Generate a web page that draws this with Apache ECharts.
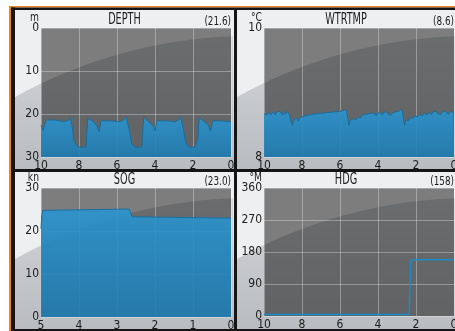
<!DOCTYPE html>
<html>
<head>
<meta charset="utf-8">
<script src="https://cdn.jsdelivr.net/npm/echarts@6/dist/echarts.min.js"></script>
<style>
    html, body { margin: 0; padding: 0; background: #fff; }
    #chart { width: 455px; height: 331px; }
</style>
</head>
<body>
<div id="chart"></div>
<script>
(function() {
    'use strict';

    // History values, x = minutes ago
    const depthData = [
        [10.0, 22.6], [9.88, 23.8], [9.74, 21.4], [9.26, 21.4], [9.17, 21.8], [8.82, 21.8],
        [8.56, 21.5], [8.47, 20.8], [8.38, 22.5], [8.26, 26.5], [8.03, 27.7], [7.63, 27.7],
        [7.54, 21.0], [7.24, 21.8], [7.07, 22.6], [6.94, 24.2], [6.84, 21.6], [6.27, 21.6],
        [6.19, 21.8], [5.83, 21.8], [5.66, 21.4], [5.52, 20.8], [5.39, 23.0], [5.22, 27.0],
        [5.04, 27.7], [4.69, 27.7], [4.60, 20.8], [4.34, 21.8], [4.08, 22.8], [3.99, 24.0],
        [3.90, 21.6], [3.37, 21.6], [3.28, 21.8], [2.93, 21.8], [2.76, 21.4], [2.64, 20.8],
        [2.53, 23.0], [2.39, 26.5], [2.23, 27.7], [1.88, 27.7], [1.76, 26.0], [1.67, 20.8],
        [1.41, 21.8], [1.18, 22.6], [1.09, 24.0], [0.95, 21.6], [0.56, 21.6], [0.47, 21.8],
        [0.00, 21.8]
    ];

    const tempData = [
        [10.0, 8.67], [9.92, 8.70], [9.85, 8.65], [9.77, 8.69], [9.70, 8.71], [9.62, 8.66],
        [9.55, 8.70], [9.47, 8.68], [9.40, 8.65], [9.32, 8.70], [9.25, 8.67], [9.17, 8.71],
        [9.10, 8.68], [9.02, 8.65], [8.95, 8.70], [8.87, 8.66], [8.80, 8.71], [8.72, 8.74],
        [8.66, 8.66], [8.58, 8.55], [8.50, 8.49], [8.44, 8.58], [8.36, 8.55], [8.28, 8.60],
        [8.20, 8.56], [8.12, 8.61], [8.04, 8.58], [7.96, 8.63], [7.88, 8.60], [7.80, 8.64],
        [7.72, 8.61], [7.64, 8.65], [7.56, 8.62], [7.48, 8.66], [7.40, 8.63], [7.32, 8.67],
        [7.24, 8.64], [7.16, 8.67], [7.08, 8.64], [7.00, 8.68], [6.92, 8.65], [6.84, 8.68],
        [6.76, 8.65], [6.68, 8.69], [6.60, 8.66], [6.52, 8.69], [6.44, 8.66], [6.36, 8.70],
        [6.28, 8.67], [6.20, 8.70], [6.12, 8.67], [6.04, 8.71], [5.96, 8.68], [5.88, 8.71],
        [5.80, 8.68], [5.72, 8.74], [5.64, 8.70], [5.58, 8.58], [5.52, 8.49], [5.46, 8.57],
        [5.38, 8.54], [5.30, 8.59], [5.22, 8.60], [5.14, 8.58], [5.06, 8.62], [4.98, 8.63],
        [4.90, 8.61], [4.82, 8.65], [4.74, 8.62], [4.66, 8.66], [4.58, 8.63], [4.50, 8.67],
        [4.42, 8.64], [4.34, 8.68], [4.26, 8.65], [4.18, 8.68], [4.10, 8.64], [4.02, 8.68],
        [3.94, 8.65], [3.86, 8.69], [3.78, 8.65], [3.70, 8.69], [3.62, 8.66], [3.54, 8.70],
        [3.46, 8.66], [3.38, 8.69], [3.30, 8.65], [3.22, 8.69], [3.14, 8.66], [3.06, 8.70],
        [2.98, 8.67], [2.90, 8.71], [2.82, 8.68], [2.76, 8.74], [2.70, 8.68], [2.64, 8.56],
        [2.60, 8.49], [2.54, 8.57], [2.46, 8.59], [2.38, 8.57], [2.30, 8.61], [2.22, 8.62],
        [2.14, 8.60], [2.06, 8.64], [1.98, 8.64], [1.90, 8.62], [1.82, 8.66], [1.74, 8.66],
        [1.66, 8.64], [1.58, 8.68], [1.50, 8.68], [1.42, 8.65], [1.34, 8.69], [1.26, 8.69],
        [1.18, 8.66], [1.10, 8.70], [1.02, 8.67], [0.94, 8.71], [0.86, 8.67], [0.78, 8.70],
        [0.70, 8.66], [0.62, 8.70], [0.54, 8.67], [0.46, 8.71], [0.38, 8.68], [0.30, 8.66],
        [0.22, 8.70], [0.14, 8.67], [0.06, 8.70], [0.00, 8.68]
    ];

    const sogData = [
        [5.0, 20.5], [4.98, 23.5], [4.95, 24.8], [4.9, 25.1], [2.68, 25.1],
        [2.64, 24.3], [2.60, 23.3], [2.55, 23.0], [0.0, 23.0]
    ];

    const hdgData = [
        [10.0, 4], [2.36, 4], [2.33, 60], [2.29, 150], [2.24, 158], [0.0, 158]
    ];

    const titles = ['DEPTH', 'WTRTMP', 'SOG', 'HDG'];
    const units = ['m', '°C', 'kn', '°M'];
    const readouts = ['(21.6)', '(8.6)', '(23.0)', '(158)'];

    // Axis ranges per panel
    const xMax = [10, 10, 5, 10];
    const xStep = [2, 2, 1, 2];
    const yMin = [0, 8, 0, 0];
    const yMax = [30, 10, 30, 360];
    const yStep = [10, 2, 10, 90];

    // Layout: panel boxes and plot boxes [x, y, w, h]
    const panels = [[15, 10, 219, 159], [237, 10, 218, 159], [15, 172, 219, 157], [237, 172, 218, 157]];
    const plots = [[41, 28, 190, 129], [264, 28, 190, 129], [41, 188, 190, 129], [264, 188, 190, 128]];

    const font = "'DejaVu Sans Condensed', 'Liberation Sans Narrow', sans-serif";
    const textColor = '#1c1c1c';

    // Curved highlight shape (big circle) clipped to a box
    function swoosh(box, panel) {
        const cx = panel[0] + 235, cy = panel[1] + 509, r = 483;
        const pts = [];
        for (let x = box[0]; x <= box[0] + box[2]; x += 2) {
            let y = cy - Math.sqrt(r * r - (x - cx) * (x - cx));
            y = Math.min(Math.max(y, box[1]), box[1] + box[3]);
            pts.push([x, y]);
        }
        pts.push([box[0] + box[2], box[1] + box[3]], [box[0], box[1] + box[3]]);
        return pts;
    }

    function label(text, x, y, fontSpec, align, sx) {
        return { type: 'text', z: 10, x: x, y: y, scaleX: sx,
            style: { text: text, x: 0, y: 0, textAlign: align, textVerticalAlign: 'middle',
                font: fontSpec + ' ' + font, fill: textColor } };
    }

    const graphics = [];
    panels.forEach((p, i) => {
        const pl = plots[i];
        graphics.push({ type: 'rect', z: -20, shape: { x: p[0], y: p[1], width: p[2], height: p[3] }, style: { fill: '#eeeff0' } });
        graphics.push({ type: 'polygon', z: -19, shape: { points: swoosh(p, p) },
            style: { fill: new echarts.graphic.LinearGradient(0, 0, 0, 1, [{ offset: 0, color: '#d3d5d8' }, { offset: 1, color: '#b9bcc0' }]) } });
        graphics.push({ type: 'rect', z: -18, shape: { x: pl[0], y: pl[1], width: pl[2], height: pl[3] }, style: { fill: '#7d7d7d' } });
        graphics.push({ type: 'polygon', z: -17, shape: { points: swoosh(pl, p) },
            style: { fill: new echarts.graphic.LinearGradient(0, 0, 0, 1, [{ offset: 0, color: '#6b6c6d' }, { offset: 1, color: '#616264' }]) } });

        // Titles, units and current readouts
        graphics.push(label(titles[i], p[0] + p[2] / 2, pl[1] - 8, '15px', 'center', 0.72));
        graphics.push(label(readouts[i], pl[0] + pl[2], pl[1] - 6, '12px', 'right', 0.82));
        graphics.push(label(units[i], pl[0] - 2, pl[1] - 10.5, '12px', 'right', 0.85));
    });

    // Frame: orange outer line and black dividers
    const frame = [
        [9, 6, 446, 1.5, '#f0861a'], [9, 6, 2, 325, '#f0861a'],
        [11, 7.5, 444, 2.5, '#151515'], [11, 7.5, 4, 324, '#151515'],
        [234, 10, 3, 321, '#151515'], [15, 169, 440, 3, '#151515'], [15, 329, 440, 2, '#151515']
    ];
    frame.forEach(f => {
        graphics.push({ type: 'rect', z: 50, shape: { x: f[0], y: f[1], width: f[2], height: f[3] }, style: { fill: f[4] } });
    });

    const splitStyle = { show: true, lineStyle: { color: 'rgba(255,255,255,0.32)', width: 1 } };

    const option = {
        animation: false,
        backgroundColor: '#ffffff',
        grid: plots.map(pl => ({ left: pl[0], top: pl[1], width: pl[2], height: pl[3], outerBoundsMode: 'none', containLabel: false })),
        xAxis: plots.map((pl, i) => ({
            gridIndex: i, type: 'value', min: 0, max: xMax[i], interval: xStep[i], inverse: true,
            axisLine: { show: false }, axisTick: { show: false }, splitLine: splitStyle,
            axisLabel: { color: textColor, fontSize: 12, fontFamily: font, margin: 3 }
        })),
        yAxis: plots.map((pl, i) => ({
            gridIndex: i, type: 'value', min: yMin[i], max: yMax[i], interval: yStep[i], inverse: i === 0,
            axisLine: { show: false }, axisTick: { show: false }, splitLine: splitStyle,
            axisLabel: { color: textColor, fontSize: 12, fontFamily: font, margin: 2 }
        })),
        graphic: { elements: graphics },
        series: [
            { type: 'line', xAxisIndex: 0, yAxisIndex: 0, data: depthData, showSymbol: false,
              lineStyle: { color: '#1b6e9e', width: 1 },
              areaStyle: { origin: 'end', opacity: 0.9,
                color: new echarts.graphic.LinearGradient(0, 0, 0, 1, [{ offset: 0, color: '#2a94cf' }, { offset: 1, color: '#1f7cb2' }]) } },
            { type: 'line', xAxisIndex: 1, yAxisIndex: 1, data: tempData, showSymbol: false,
              lineStyle: { color: '#1b6e9e', width: 1 },
              areaStyle: { origin: 'start', opacity: 0.9,
                color: new echarts.graphic.LinearGradient(0, 0, 0, 1, [{ offset: 0, color: '#2a94cf' }, { offset: 1, color: '#1f7cb2' }]) } },
            { type: 'line', xAxisIndex: 2, yAxisIndex: 2, data: sogData, showSymbol: false,
              lineStyle: { color: '#1b6e9e', width: 1 },
              areaStyle: { origin: 'start', opacity: 0.9,
                color: new echarts.graphic.LinearGradient(0, 0, 0, 1, [{ offset: 0, color: '#2a94cf' }, { offset: 1, color: '#1f7cb2' }]) } },
            { type: 'line', xAxisIndex: 3, yAxisIndex: 3, data: hdgData, showSymbol: false,
              lineStyle: { color: '#1a8ac8', width: 1.5 } }
        ]
    };

    const chart = echarts.init(document.getElementById('chart'), null, { renderer: 'canvas' });
    chart.setOption(option);
})();
</script>
</body>
</html>
